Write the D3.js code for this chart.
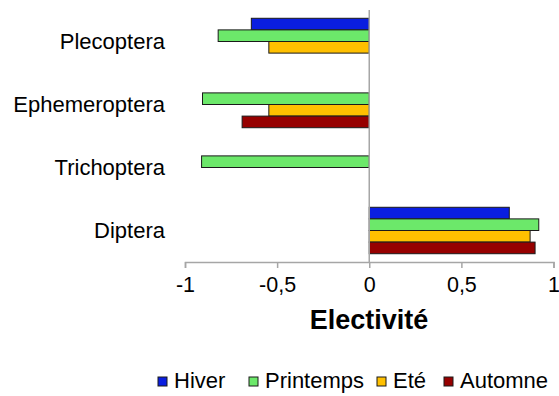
<!DOCTYPE html>
<html>
<head>
<meta charset="utf-8">
<script src="https://cdn.jsdelivr.net/npm/d3@7"></script>
<style>
  html, body { margin: 0; padding: 0; background: #fff; }
  svg { display: block; font-family: "Liberation Sans", Arial, sans-serif; }
</style>
</head>
<body>
<svg id="chart" width="559" height="396"></svg>
<script>
const categories = ["Plecoptera", "Ephemeroptera", "Trichoptera", "Diptera"];
const seriesNames = ["Hiver", "Printemps", "Eté", "Automne"];
const seriesColors = ["#0a1ee0", "#6ce86a", "#ffc000", "#960000"];
const hiver     = [-0.64, 0,     0,     0.76];
const printemps = [-0.82, -0.905, -0.91, 0.92];
const ete       = [-0.545, -0.545, 0,    0.873];
const automne   = [0,     -0.69,  0,     0.90];
const xTicks = [-1, -0.5, 0, 0.5, 1];
const xTitle = "Electivité";

const seriesValues = [hiver, printemps, ete, automne];

(function () {
const svg = d3.select("#chart");
const pLeft = 185, pRight = 553.5, pTop = 10, pBottom = 262;

const x = d3.scaleLinear().domain([-1, 1]).range([pLeft, pRight]);
const y = d3.scaleBand().domain(categories).range([pTop, pBottom]).paddingInner(0.263).paddingOuter(0.1315);
const ySub = d3.scaleBand().domain(seriesNames).range([0, y.bandwidth()]);

const axisColor = "#a6a6a6";

// bars
const groups = svg.append("g").selectAll("g")
  .data(categories).join("g")
  .attr("transform", d => `translate(0,${y(d)})`);

groups.selectAll("rect")
  .data((c, ci) => seriesNames.map((s, si) => ({ s, si, v: seriesValues[si][ci] })).filter(d => d.v !== 0))
  .join("rect")
  .attr("x", d => Math.min(x(0), x(d.v)))
  .attr("y", d => ySub(d.s))
  .attr("width", d => Math.abs(x(d.v) - x(0)))
  .attr("height", ySub.bandwidth())
  .attr("fill", d => seriesColors[d.si])
  .attr("stroke", "#1a1a1a")
  .attr("stroke-width", 1);

// vertical zero line
svg.append("line")
  .attr("x1", x(0)).attr("x2", x(0))
  .attr("y1", pTop).attr("y2", pBottom)
  .attr("stroke", axisColor).attr("stroke-width", 1.5);

// x axis
const xAxis = d3.axisBottom(x).tickValues(xTicks).tickSize(6).tickPadding(9)
  .tickFormat(d => String(d).replace(".", ","));
const gx = svg.append("g").attr("transform", `translate(0,${pBottom})`).call(xAxis);
gx.select(".domain").attr("stroke", axisColor).attr("stroke-width", 1.5);
gx.selectAll(".tick line").attr("stroke", axisColor).attr("stroke-width", 1.5);
gx.selectAll(".tick text").attr("fill", "#000").attr("font-size", 21.5)
  .attr("font-family", "'Liberation Sans', Arial, sans-serif");

// category labels
svg.append("g").selectAll("text")
  .data(categories).join("text")
  .attr("x", 165)
  .attr("y", d => y(d) + y.bandwidth() / 2)
  .attr("dy", "0.35em")
  .attr("text-anchor", "end")
  .attr("font-size", 22)
  .attr("fill", "#000")
  .text(d => d);

// x title
svg.append("text")
  .attr("x", 369)
  .attr("y", 329)
  .attr("text-anchor", "middle")
  .attr("font-size", 27)
  .attr("font-weight", "bold")
  .attr("fill", "#000")
  .text(xTitle);

// legend
const legendX = [158, 249, 377, 444];
const lg = svg.append("g").selectAll("g")
  .data(seriesNames).join("g")
  .attr("transform", (d, i) => `translate(${legendX[i]},377)`);
lg.append("rect")
  .attr("width", 9).attr("height", 9)
  .attr("fill", (d, i) => seriesColors[i])
  .attr("stroke", "#1a1a1a").attr("stroke-width", 1);
lg.append("text")
  .attr("x", 16).attr("y", 11)
  .attr("font-size", 22)
  .attr("fill", "#000")
  .text(d => d);
})();
</script>
</body>
</html>
